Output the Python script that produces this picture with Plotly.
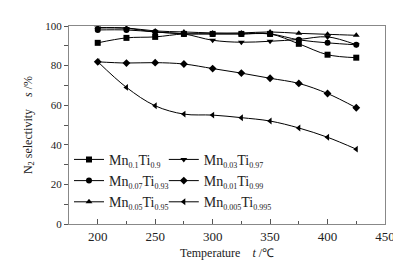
import plotly.graph_objects as go

temps = [200, 225, 250, 275, 300, 325, 350, 375, 400, 425]
labels = [("0.1", "0.9"), ("0.03", "0.97"), ("0.07", "0.93"),
          ("0.01", "0.99"), ("0.05", "0.95"), ("0.005", "0.995")]
mn010 = [91.5, 94.0, 94.5, 96.0, 96.0, 96.0, 96.0, 91.0, 85.5, 84.0]
mn003 = [99.0, 98.8, 97.0, 96.0, 92.8, 91.8, 92.3, 93.2, 94.5, 90.5]
mn007 = [98.0, 98.0, 97.0, 96.0, 96.0, 96.0, 96.0, 93.0, 91.5, 90.5]
mn001 = [81.9, 81.3, 81.5, 80.8, 78.5, 76.2, 73.6, 71.0, 65.9, 58.7]
mn005 = [99.2, 99.0, 97.5, 97.0, 96.5, 96.5, 97.0, 96.3, 95.8, 95.3]
mn0005 = [82.0, 69.0, 59.7, 55.5, 55.0, 53.7, 52.0, 48.5, 43.8, 37.8]

series = [mn010, mn003, mn007, mn001, mn005, mn0005]
symbols = ["square", "triangle-down", "circle", "diamond", "triangle-up", "triangle-left"]
legend_ids = ["legend", "legend2", "legend", "legend2", "legend", "legend2"]

def sub(t):
    return "<sub><span style='font-size:8px;fill:#222;color:#222'>" + t + "</span></sub>"

fig = go.Figure()
for (a, b), ys, sym, lg in zip(labels, series, symbols, legend_ids):
    nm = "Mn" + sub(a) + "Ti" + sub(b)
    fig.add_trace(go.Scatter(
        x=temps, y=ys, name=nm, mode="lines+markers", legend=lg,
        line=dict(color="black", width=1, shape="spline"),
        marker=dict(symbol=sym, size=6, color="black"),
    ))

fam = "Liberation Serif, Times New Roman, serif"
leg_common = dict(orientation="v", yanchor="top", xanchor="left", itemwidth=30,
                  bgcolor="rgba(0,0,0,0)", tracegroupgap=0,
                  font=dict(size=14, family=fam, color="#222"))
fig.update_layout(
    width=401, height=262,
    margin=dict(l=61, r=24, t=13, b=40),
    paper_bgcolor="white", plot_bgcolor="white",
    font=dict(family=fam, size=13, color="#222"),
    showlegend=True,
    legend=dict(x=0.0, y=0.405, **leg_common),
    legend2=dict(x=0.30, y=0.405, **leg_common),
)
fig.update_xaxes(
    range=[175, 450], tickvals=[200, 250, 300, 350, 400, 450],
    ticks="inside", ticklen=5, tickcolor="#555",
    minor=dict(tickvals=[225, 275, 325, 375, 425], ticks="inside", ticklen=3, tickcolor="#555"),
    showline=True, linecolor="#888", linewidth=1, mirror=True, showgrid=False, zeroline=False,
    title=dict(text="Temperature    <i>t</i> /℃", standoff=6, font=dict(size=12)),
    tickfont=dict(size=13),
)
fig.update_yaxes(
    range=[0, 100], tickvals=[0, 20, 40, 60, 80, 100],
    ticks="outside", ticklen=4, tickcolor="#555",
    minor=dict(tickvals=[10, 30, 50, 70, 90], ticks="outside", ticklen=4, tickcolor="#555"),
    showline=True, linecolor="#888", linewidth=1, mirror=True, showgrid=False, zeroline=False,
    title=dict(text="N<sub>2</sub> selectivity    <i>s</i> /%", standoff=10, font=dict(size=12)),
    tickfont=dict(size=11),
)
fig.write_html("out.html")
